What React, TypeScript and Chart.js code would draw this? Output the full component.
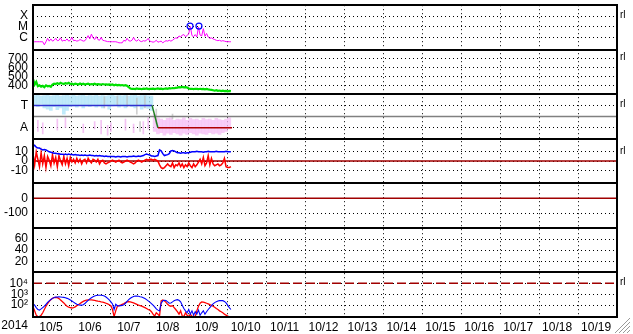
import { useEffect, useRef } from "react";
import { Chart, registerables } from "chart.js";
Chart.register(...registerables);

// ---- time axis (days since 2014-10-05 00:00) ----
const YEAR_LABEL = "2014";
const DAY_LABELS = ["10/5","10/6","10/7","10/8","10/9","10/10","10/11","10/12","10/13","10/14","10/15","10/16","10/17","10/18","10/19"];
const X_MIN = 0;
const X_MAX = 15;
const REF_SPAN = [0, 15];

// ---- panel 1: X-ray flux, hourly, in µW/m² (C1 = 1) ----
const XRAY_CLASS_TICKS = [100, 10, 1];
const XRAY_CLASS_LABELS = ["X", "M", "C"];
const xrayFlux = [
  0.44,0.44,0.44,0.44,0.44,0.44,0.44,0.23,0.44,0.9,0.5,0.8,
  0.5,0.6,0.9,0.55,0.6,1.0,0.5,0.6,0.55,0.8,0.5,0.6,
  1.1,0.55,0.6,0.5,0.55,0.7,0.6,0.5,0.55,0.9,1.6,0.8,
  2.2,1.0,0.7,1.3,0.7,0.6,1.1,0.6,0.55,0.5,0.45,0.45,
  0.44,0.44,0.44,0.44,0.4,0.35,0.35,0.35,0.6,0.5,0.9,0.55,
  0.5,0.6,1.1,0.6,0.5,0.7,0.5,0.45,0.55,0.5,0.6,0.9,
  0.5,0.45,0.4,0.45,0.6,0.4,0.45,0.5,0.35,0.45,0.55,0.5,
  0.6,0.5,0.6,0.8,1.0,0.9,1.5,1.2,1.8,2.0,1.3,1.6,
  2.5,11,1.6,1.3,2.0,1.2,10,1.8,1.5,7,1.4,2.5,
  1.2,0.9,1.0,0.8,0.7,0.6,0.55,0.6,0.5,0.55,0.5,0.45,
  0.45,0.44,0.44,
];
const flareHours = [96.8, 102.3];
const flarePeaks = [12, 12];

// ---- panel 2: solar wind speed (km/s), hourly ----
const SPEED_TICKS = [400, 500, 600, 700];
const windSpeed = [
  470,410,440,390,400,385,395,380,400,390,395,385,
  410,420,415,425,415,430,420,415,425,420,430,415,
  420,410,420,415,410,420,412,418,410,415,420,410,
  415,412,418,410,415,412,408,415,410,412,408,410,
  405,410,402,408,400,405,400,404,398,402,395,380,
  365,360,362,358,365,360,362,357,363,360,365,358,
  362,360,364,358,362,365,360,363,358,362,366,362,
  368,365,370,368,372,375,380,378,382,378,380,376,
  365,360,362,358,362,360,357,362,358,360,356,360,
  355,352,350,345,340,345,338,342,336,340,335,338,
  332,338,335,
];

// ---- panel 3: IMF sector (phi angle, deg; A = 90, T = 270) ----
const SECTOR_TICKS = [90, 270];
const SECTOR_LABELS: Record<number, string> = { 90: "A", 270: "T" };
const SECTOR_BOUNDARY = 180;
const towardLow = [270,260,280,250,240,230,260,235,250,200,230,260,265,255,270,250,265,260,270,255,265,250,270,240,265,270,255,265,250,270,260,250,265,240,255,245,230];
const towardHigh = [350,352,345,350,352,345,350,352,345,350,352,348,352,345,350,352,345,350,348,352,345,350,345,350,352,345,350,348,352,345,350,352,345,350,352,348,345];
const awayLow = [60,40,50,30,45,35,50,40,30,45,35,50,40,30,45,40,35,50,40,45,35,50,60,80];
const awayHigh = [200,170,160,150,165,170,150,160,155,170,150,165,155,160,150,165,155,160,150,165,155,150,160,170];
const awayStreakHours = [3, 6, 15, 20, 31, 38, 42, 46, 48, 57, 62, 68, 71];
const awayStreakLow = [60, 40, 70, 90, 50, 80, 40, 30, 60, 70, 50, 40, 80];
const awayStreakHigh = [150, 130, 160, 170, 120, 140, 150, 110, 130, 160, 120, 140, 170];
const grayStreakHours = [44, 52, 58, 64, 66, 69, 76, 86];
const grayStreakLow = [250, 270, 260, 200, 60, 250, 120, 160];
const grayStreakHigh = [340, 345, 350, 330, 140, 345, 240, 200];
const sectorHours = [0, 73.4, 77, 122.7];
const sectorPhi = [270, 270, 90, 90];

// ---- panel 4: IMF Bt / Bz (nT), hourly ----
const B_TICKS = [-10, 0, 10];
const imfBt = [
  16,17,15,14,14,13,12,12.5,12,11,10,9.5,
  9,8.5,8.5,8,8,7.5,7.5,7,7.5,7,7.5,7,
  7,6.5,7,6.5,6.5,6,6.5,6,6.5,6,6,6.5,
  6,6,5.5,6,5.5,6,5.5,5.5,5,5.5,5,5,
  5,5,5,4.5,5,5,4.5,5,5,5,4.5,5,
  5,5,5.5,5,5,5.5,5,5.5,6,7,7.5,7,
  6.5,5.5,5.5,5,5.5,6,12,11,8,6,6.5,7,
  8,11,11.5,11,10,9,9,8.5,9,9,8.5,9,
  9,9.5,10,10,10,10.5,10,10,10,9.5,10,10,
  10.5,10,10,10,10,10.5,10,10,10,10,10,10.5,
  10,10,10,
];
const imfBz = [
  8,-4,10,2,-6,9,-3,6,-7,5,1,-5,
  7,-2,4,-6,6,0,-4,5,-3,3,-5,4,
  -1,2,-2,3,-1,2,-3,1,2,-2,3,0,
  -2,2,1,-1,2,-3,0,1,-2,-3,-2,-1,
  0,1,0,-1,0,1,-1,-2,-1,0,1,0,
  -1,-2,-3,-2,0,1,0,-1,0,1,2,1,
  2,2,1,2,1,0,-4,-7,-8,-7,-5,-3,
  -5,-6,-2,-7,-4,-5,-2,-6,-3,-7,-4,-6,
  -2,-5,-7,-3,-6,-4,-1,2,-3,4,-5,-2,
  6,-4,3,-3,-5,-4,-3,-5,-4,-2,3,-6,
  -7,-7,-6,
];

// ---- panel 5: Dst (nT) ----
const DST_TICKS = [-100, 0];
const DST_ZERO = 0;

// ---- panel 6 ----
const P6_TICKS = [20, 40, 60];

// ---- panel 7: particle flux, hourly ----
const FLUX_TICKS = [100, 1000, 10000];
const FLUX_LABELS: Record<number, string> = { 100: "10²", 1000: "10³", 10000: "10⁴" };
const FLUX_ALERT = 10000;
const fluxBlue = [
  140,100,60,40,35,45,60,80,120,180,250,330,
  420,500,550,560,580,560,540,520,480,420,360,300,
  240,190,150,120,110,100,100,110,140,200,280,380,
  480,580,680,760,800,820,800,760,680,560,420,300,
  200,130,40,120,90,85,90,95,110,150,220,320,
  430,540,630,680,680,650,600,560,480,400,320,250,
  190,140,100,70,45,35,30,150,250,280,260,200,
  150,160,200,260,300,320,280,200,100,50,30,20,
  40,15,30,12,25,15,35,12,20,30,15,25,
  40,60,90,130,170,210,240,260,270,260,220,160,
  100,60,40,
];
const fluxRed = [
  70,30,12,9,9,12,20,40,80,140,220,320,
  420,500,520,480,400,300,220,160,110,80,65,60,
  55,60,70,90,110,140,180,220,260,290,300,310,
  300,290,270,250,230,220,200,190,170,150,130,110,
  90,40,9,30,80,90,100,120,140,170,200,210,
  200,180,160,140,120,100,90,80,70,60,50,40,
  35,25,15,10,20,15,10,250,300,250,180,120,
  90,80,90,60,40,25,15,30,10,9,20,12,
  9,15,9,10,9,30,80,150,200,190,170,150,
  130,110,95,80,65,50,40,30,25,20,15,12,
  10,9,9,
];

const hourly = (vals: number[]) => vals.map((v, i) => ({ x: i / 24, y: v }));
const atHours = (hours: number[], vals: any[]) => hours.map((h, i) => ({ x: h / 24, y: vals[i] }));
const span = (v: number) => REF_SPAN.map((x) => ({ x, y: v }));

const FONT = "'Liberation Sans', Arial, Helvetica, sans-serif";
const FONT_SIZE = 12;

function yAxis(weight: number, type: string, min: number, max: number, ticks: number[], label: (v: number) => string) {
  return {
    type, min, max, position: "left", stack: "panels", stackWeight: 1, weight, offset: false,
    afterBuildTicks: (s: any) => { s.ticks = ticks.map((v) => ({ value: v })); },
    afterFit: (s: any) => { s.width = 33; s.paddingTop = 0; s.paddingBottom = 0; s.paddingLeft = 0; s.paddingRight = 0; },
    ticks: { callback: (v: any) => label(Number(v)), padding: 5, color: "#000", autoSkip: false, font: { family: FONT, size: FONT_SIZE } },
    grid: { color: "#000", lineWidth: 1, drawTicks: false, offset: false },
    border: { display: false, dash: [1, 3] },
  };
}

const PANELS = ["y1", "y2", "y3", "y4", "y5", "y6", "y7"];

const framePlugin = {
  id: "frame",
  afterDraw(chart: any) {
    const { ctx, chartArea: a } = chart;
    ctx.save();
    ctx.strokeStyle = "#000";
    ctx.lineWidth = 2;
    ctx.beginPath();
    const ys: number[] = [];
    PANELS.forEach((id) => { const s = chart.scales[id]; ys.push(s.top, s.bottom); });
    ys.forEach((y) => { ctx.moveTo(a.left - 1, Math.round(y)); ctx.lineTo(a.right + 1, Math.round(y)); });
    ctx.moveTo(a.left, a.top); ctx.lineTo(a.left, a.bottom);
    ctx.moveTo(a.right, a.top); ctx.lineTo(a.right, a.bottom);
    ctx.stroke();

    ctx.fillStyle = "#000";
    ctx.font = `${FONT_SIZE}px ${FONT}`;
    ctx.textAlign = "right";
    ctx.textBaseline = "top";
    const xs = chart.scales.x;
    ctx.fillText(YEAR_LABEL, a.left - 5, xs.top + 3);

    ctx.font = `10px ${FONT}`;
    ctx.textAlign = "left";
    ctx.textBaseline = "middle";
    const marks: [string, number][] = [["y1", 100], ["y2", 700], ["y3", 270], ["y4", 10], ["y7", FLUX_ALERT]];
    marks.forEach(([id, v]) => ctx.fillText("rl", a.right + 3, chart.scales[id].getPixelForValue(v) - 1));

    ctx.strokeStyle = "#999";
    ctx.lineWidth = 1;
    ctx.beginPath();
    const W = chart.width, H = chart.height;
    for (let i = 0; i < 4; i++) {
      ctx.moveTo(W - 18 + i * 4, H - 1);
      ctx.lineTo(W - 3, H - 16 + i * 4);
    }
    ctx.stroke();
    ctx.restore();
  },
};

export default function App() {
  const ref = useRef<HTMLCanvasElement>(null);
  useEffect(() => {
    document.body.style.margin = "0";
    const line = (data: any[], yAxisID: string, color: string, width: number, extra: any = {}) => ({
      type: "line", data, yAxisID, xAxisID: "x", borderColor: color, borderWidth: width,
      pointRadius: 0, fill: false, tension: 0, ...extra,
    });
    const band = (data: any[], color: string, thick: number) => ({
      type: "bar", data, yAxisID: "y3", xAxisID: "x", backgroundColor: color, borderWidth: 0,
      barThickness: thick, grouped: false,
    });
    const chart = new Chart(ref.current!, {
      type: "line",
      data: {
        datasets: [
          line(atHours(flareHours, flarePeaks), "y1", "#0000ff", 1.2, { showLine: false, pointRadius: 3, pointStyle: "circle", pointBorderColor: "#0000ff", pointBackgroundColor: "rgba(0,0,0,0)", pointBorderWidth: 1.2 }),
          line(hourly(xrayFlux), "y1", "#ff00ff", 1),
          line(hourly(windSpeed), "y2", "#00e000", 2.2),
          line(atHours(sectorHours, sectorPhi), "y3", "#3030d0", 1.5, {
            segment: { borderColor: (c: any) => c.p0.parsed.y === 270 && c.p1.parsed.y === 270 ? "#3030d0" : c.p0.parsed.y === 90 && c.p1.parsed.y === 90 ? "#b00000" : "#208020" },
          }),
          line(span(SECTOR_BOUNDARY), "y3", "#808080", 1.5),
          line(hourly(imfBt), "y4", "#0000ff", 1.5),
          line(hourly(imfBz), "y4", "#ff0000", 1.5),
          line(span(0), "y4", "#a00000", 1.5),
          line(span(DST_ZERO), "y5", "#a00000", 1.5),
          line(hourly(fluxBlue), "y7", "#0000ff", 1.1),
          line(hourly(fluxRed), "y7", "#ff0000", 1.3),
          line(span(FLUX_ALERT), "y7", "#a00000", 1.5, { borderDash: [9, 4] }),
          band(atHours(awayStreakHours, awayStreakLow.map((l, i) => [l, awayStreakHigh[i]])), "rgba(240,170,240,0.7)", 1),
          band(atHours(grayStreakHours, grayStreakLow.map((l, i) => [l, grayStreakHigh[i]])), "rgba(190,190,190,0.7)", 1),
          band(towardLow.map((l, i) => ({ x: (2 * i + 1) / 24, y: [l, towardHigh[i]] })), "rgba(165,225,248,0.7)", 3),
          band(awayLow.map((l, i) => ({ x: (75 + 2 * i) / 24, y: [l, awayHigh[i]] })), "rgba(245,185,245,0.7)", 3),
        ] as any,
      },
      options: {
        responsive: false,
        animation: false,
        devicePixelRatio: 1,
        events: [],
        layout: { padding: { left: 0, top: 2, right: 16, bottom: 0 } },
        plugins: { legend: { display: false }, tooltip: { enabled: false } },
        scales: {
          x: {
            type: "linear", min: X_MIN, max: X_MAX, position: "bottom", offset: false,
            afterBuildTicks: (s: any) => { s.ticks = Array.from({ length: X_MAX - X_MIN + 1 }, (_, i) => ({ value: X_MIN + i })); },
            afterFit: (s: any) => { s.height = 17; s.paddingLeft = 0; s.paddingRight = 0; },
            ticks: {
              callback: (v: any) => DAY_LABELS[Number(v) - X_MIN] ?? "",
              labelOffset: 18, maxRotation: 0, autoSkip: false, padding: 3, color: "#000",
              font: { family: FONT, size: FONT_SIZE },
            },
            grid: {
              color: (c: any) => (c.tick && c.tick.value > X_MIN && c.tick.value < X_MAX ? "#000" : "rgba(0,0,0,0)"),
              lineWidth: 1, drawTicks: false, offset: false,
            },
            border: { display: false, dash: [1, 3] },
          },
          y1: yAxis(7, "logarithmic", 0.081, 1000, XRAY_CLASS_TICKS, (v) => XRAY_CLASS_LABELS[XRAY_CLASS_TICKS.indexOf(v)] ?? ""),
          y2: yAxis(6, "linear", 300, 800, SPEED_TICKS, (v) => String(v)),
          y3: yAxis(5, "linear", 0, 360, SECTOR_TICKS, (v) => SECTOR_LABELS[v] ?? ""),
          y4: yAxis(4, "linear", -24, 24, B_TICKS, (v) => String(v)),
          y5: yAxis(3, "linear", -200, 100, DST_TICKS, (v) => String(v)),
          y6: yAxis(2, "linear", 0, 80, P6_TICKS, (v) => String(v)),
          y7: yAxis(1, "logarithmic", 8.2, 100000, FLUX_TICKS, (v) => FLUX_LABELS[v] ?? ""),
        } as any,
      },
      plugins: [framePlugin],
    } as any);
    return () => chart.destroy();
  }, []);
  return (
    <div style={{ width: 633, height: 334 }}>
      <canvas ref={ref} width={633} height={334} style={{ display: "block" }} />
    </div>
  );
}
